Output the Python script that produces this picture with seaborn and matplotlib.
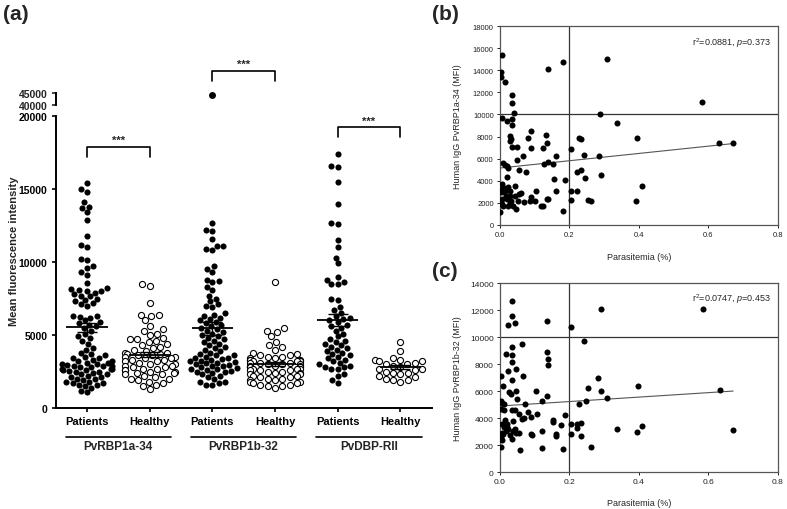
import matplotlib
matplotlib.use("Agg")
import numpy as np
import pandas as pd
import matplotlib.pyplot as plt
import seaborn as sns

sns.set_style("ticks")
plt.rcParams['font.family'] = ['Liberation Sans', 'DejaVu Sans']
plt.rcParams['mathtext.fontset'] = 'custom'
plt.rcParams['mathtext.rm'] = 'Liberation Sans'
plt.rcParams['mathtext.it'] = 'Liberation Sans:italic'

# ---------------- panel (a) data: MFI per group ----------------
antigens = ['PvRBP1a-34', 'PvRBP1b-32', 'PvDBP-RII']
groups = ['Patients', 'Healthy']

rbp1a_patients = [15400, 15000, 14800, 14100, 13800, 13700, 13400, 12900, 11800, 11150, 11000,
                  10200, 10150, 9700, 9600, 9300, 9100, 8550, 8200, 8150, 8100, 8050, 8000, 7900,
                  7800, 7700, 7650, 7500, 7400, 7300, 7200, 7100, 7000, 6300, 6300, 6250, 6200,
                  6000, 5900, 5800, 5700, 5600, 5500, 5300, 5100, 4900, 4800, 4600, 4400, 4100,
                  4000, 3800, 3700, 3600, 3500, 3400, 3400, 3300, 3200, 3200, 3100, 3100, 3000,
                  3000, 2950, 2900, 2900, 2850, 2800, 2800, 2700, 2700, 2650, 2600, 2600, 2550,
                  2500, 2500, 2400, 2300, 2300, 2200, 2100, 2100, 2000, 2000, 1900, 1800, 1800,
                  1700, 1700, 1600, 1600, 1500, 1400, 1200, 1100]
rbp1a_healthy = [8500, 8350, 7200, 6400, 6350, 6300, 6000, 5600, 5400, 5300, 5100, 5000, 4800,
                 4700, 4700, 4600, 4500, 4400, 4300, 4200, 4100, 4000, 3900, 3800, 3800, 3700,
                 3700, 3600, 3600, 3500, 3500, 3400, 3400, 3300, 3300, 3200, 3200, 3100, 3000,
                 3000, 2900, 2900, 2800, 2800, 2700, 2700, 2600, 2600, 2500, 2500, 2400, 2400,
                 2300, 2300, 2200, 2100, 2000, 2000, 1900, 1800, 1700, 1600, 1500, 1300]
rbp1b_patients = [44200, 12700, 12200, 12100, 11600, 11100, 11100, 10900, 10800, 9700, 9500, 9300,
                  8800, 8700, 8600, 8300, 8100, 7700, 7500, 7300, 7100, 7000, 6900, 6500, 6400,
                  6300, 6200, 6100, 6000, 5900, 5800, 5700, 5600, 5500, 5400, 5300, 5200, 5100,
                  5000, 4900, 4800, 4700, 4600, 4500, 4400, 4300, 4200, 4100, 4000, 3900, 3800,
                  3700, 3650, 3600, 3500, 3450, 3400, 3350, 3300, 3250, 3200, 3150, 3100, 3050,
                  3000, 2950, 2900, 2850, 2800, 2750, 2700, 2650, 2600, 2550, 2500, 2450, 2400,
                  2300, 2200, 2100, 2000, 1800, 1800, 1700, 1600, 1600]
rbp1b_healthy = [8600, 5500, 5300, 5200, 4900, 4500, 4300, 4200, 4000, 3800, 3700, 3600, 3600,
                 3500, 3500, 3400, 3400, 3300, 3300, 3300, 3200, 3200, 3200, 3100, 3100, 3100,
                 3000, 3000, 3000, 2900, 2900, 2900, 2800, 2800, 2800, 2700, 2700, 2700, 2600,
                 2600, 2600, 2500, 2500, 2400, 2400, 2300, 2300, 2200, 2200, 2100, 2100, 2000,
                 2000, 1900, 1900, 1800, 1800, 1700, 1700, 1600, 1600, 1500, 1500, 1400]
dbp_patients = [17400, 16600, 16500, 15500, 14000, 12700, 12600, 11500, 11000, 10300, 9900, 9000,
                8800, 8600, 8500, 8500, 7500, 7400, 6900, 6700, 6500, 6300, 6200, 6100, 6000,
                5900, 5700, 5600, 5500, 5300, 5100, 4900, 4700, 4600, 4500, 4400, 4300, 4200,
                4100, 4000, 3900, 3800, 3700, 3600, 3500, 3400, 3300, 3200, 3100, 3000, 2900,
                2800, 2800, 2700, 2700, 2300, 2200, 1900, 1700]
dbp_healthy = [4500, 3900, 3400, 3300, 3300, 3200, 3200, 3100, 3000, 3000, 2900, 2800, 2700,
               2700, 2600, 2500, 2400, 2400, 2300, 2200, 2100, 2000, 1900, 1900, 1800]

group_means = [5520, 3640, 5450, 3020, 6020, 2800]
group_sems = [330, 170, 420, 110, 420, 140]
sig_marks = ['***', '***', '***']
sig_heights = [17900, 23100, 19250]

# ---------------- panels (b), (c): parasitemia vs IgG ----------------
b_para = [0.007, 0.003, 0.003, 0.014, 0.034, 0.035, 0.041, 0.005, 0.021, 0.035, 0.035, 0.030,
          0.032, 0.030, 0.035, 0.048, 0.080, 0.089, 0.089, 0.133, 0.134, 0.123, 0.048, 0.065,
          0.010, 0.014, 0.019, 0.022, 0.021, 0.055, 0.074, 0.127, 0.139, 0.153, 0.162, 0.203,
          0.156, 0.187, 0.161, 0.137, 0.123, 0.182, 0.204, 0.204, 0.223, 0.221, 0.232, 0.228,
          0.234, 0.243, 0.245, 0.285, 0.289, 0.292, 0.307, 0.337, 0.252, 0.262, 0.395, 0.410,
          0.392, 0.581, 0.630, 0.671, 0.139, 0.181,
          0.005, 0.007, 0.003, 0.012, 0.023, 0.028, 0.042, 0.016, 0.028, 0.042, 0.056, 0.005,
          0.019, 0.033, 0.052, 0.023, 0.038, 0.047, 0.000, 0.005, 0.009, 0.070, 0.085, 0.089,
          0.100, 0.103, 0.119, 0.134, 0.000, 0.014, 0.030, 0.060, 0.013]
b_igg = [15400, 13850, 13400, 12950, 11750, 11000, 10100, 9700, 9450, 9570, 9030, 8070,
         7770, 7620, 7070, 7070, 7830, 8460, 6950, 8130, 7370, 7000, 5870, 6260,
         5600, 5450, 5300, 5120, 4300, 4970, 4820, 5480, 5720, 5510, 6200, 6860,
         4120, 4060, 3040, 2320, 1720, 1230, 2260, 3040, 3040, 4790, 4970, 7830,
         7770, 6320, 4270, 6200, 10080, 4520, 15000, 9240, 2290, 2200, 7830, 3550,
         2200, 11140, 7370, 7370, 14090, 14780,
         3700, 3250, 2950, 2950, 3400, 3100, 3560, 2650, 2650, 2650, 2800, 2350,
         2350, 2200, 2200, 1750, 1750, 1450, 1150, 1900, 1750, 2100, 2200, 2500,
         2200, 3050, 1750, 2350, 1950, 3100, 2000, 2900, 3300]
b_fit = (5150, 3300)  # intercept, slope as drawn
b_stats = 'r$^2$=0.0881, $p$=0.373'

c_para = [0.036, 0.034, 0.043, 0.022, 0.134, 0.204, 0.290, 0.583, 0.243, 0.063, 0.034, 0.036,
          0.016, 0.035, 0.136, 0.137, 0.137, 0.022, 0.047, 0.066, 0.004, 0.036, 0.283, 0.254,
          0.290, 0.309, 0.397, 0.634, 0.010, 0.025, 0.032, 0.046, 0.104, 0.136, 0.050, 0.004,
          0.005, 0.013, 0.004, 0.012, 0.036, 0.043, 0.073, 0.120, 0.228, 0.247, 0.082, 0.062,
          0.055, 0.089, 0.107, 0.154, 0.154, 0.187, 0.015, 0.019, 0.038, 0.043, 0.012, 0.024,
          0.005, 0.005, 0.010, 0.017, 0.029, 0.034, 0.038, 0.054, 0.002, 0.006, 0.004, 0.058,
          0.088, 0.091, 0.120, 0.160, 0.161, 0.177, 0.204, 0.204, 0.223, 0.223, 0.232, 0.232,
          0.122, 0.182, 0.263, 0.336, 0.393, 0.410, 0.671, 0.020, 0.045, 0.070]
c_igg = [12640, 11550, 11060, 10890, 11160, 10720, 12100, 12100, 9700, 9460, 9230, 8640,
         8720, 8150, 8860, 8350, 7930, 7460, 7630, 7110, 7110, 6840, 6960, 6220,
         5980, 5480, 6350, 6100, 6370, 5930, 5800, 6000, 6000, 5600, 5430, 5260,
         5110, 5010, 4690, 4570, 4620, 4620, 5040, 5260, 5010, 5260, 4440, 3950,
         4270, 4050, 4270, 3880, 3700, 4200, 3830, 3530, 3780, 3210, 3330, 3210,
         3580, 2890, 2790, 3010, 2770, 2470, 3010, 2890, 2590, 2350, 1850, 1600,
         2840, 2720, 3010, 2840, 2640, 3460, 3530, 2790, 3530, 3260, 3630, 2640,
         1780, 1680, 1880, 3160, 2960, 3410, 3090, 3300, 2900, 4000]
c_fit = (4890, 1650)
c_stats = 'r$^2$=0.0747, $p$=0.453'

# ---------------- build frames ----------------
order = [f'{a}|{g}' for a in antigens for g in groups]
values = [rbp1a_patients, rbp1a_healthy, rbp1b_patients, rbp1b_healthy, dbp_patients, dbp_healthy]
rows = []
for cat, vals in zip(order, values):
    for v in vals:
        rows.append({'cat': cat, 'group': cat.split('|')[1], 'mfi': v})
df = pd.DataFrame(rows)
low = df[df['mfi'] <= 20000]
high = df[df['mfi'] > 20000]

fig = plt.figure(figsize=(7.87, 5.10), dpi=100)

# main (lower) part of the broken axis
ax = fig.add_axes([0.0706, 0.198, 0.478, 0.5725])
sns.swarmplot(data=low[low['group'] == 'Patients'], x='cat', y='mfi', order=order,
              color='black', size=4.4, ax=ax)
sns.swarmplot(data=low[low['group'] == 'Healthy'], x='cat', y='mfi', order=order,
              color='white', edgecolor='black', linewidth=0.8, size=4.4, ax=ax)
pos = np.arange(len(order))
ax.hlines(group_means, pos - 0.33, pos + 0.33, color='black', lw=1.3, zorder=5)
ax.errorbar(pos, group_means, yerr=group_sems, fmt='none', ecolor='black',
            elinewidth=1.0, capsize=7, capthick=1.0, zorder=5)
ax.set_ylim(0, 20000)
ax.set_xlim(-0.5, 5.5)
ax.set_yticks([0, 5000, 10000, 15000, 20000])
ax.set_xticks(pos)
ax.set_xticklabels([c.split('|')[1] for c in order], fontsize=8, fontweight='bold')
for t in ax.get_yticklabels():
    t.set_fontsize(7.5)
    t.set_fontweight('bold')
ax.set_xlabel('')
ax.set_ylabel('Mean fluorescence intensity', fontsize=8, fontweight='bold')
ax.yaxis.set_label_coords(-0.097, 0.54)
ax.tick_params(axis='both', direction='out', length=3, width=1.2, pad=3, colors='black')
sns.despine(ax=ax)
for s in ['left', 'bottom']:
    ax.spines[s].set_linewidth(1.4)
    ax.spines[s].set_color('black')

# antigen labels with lines underneath the tick labels
xt = ax.get_xaxis_transform()
for i, name in enumerate(antigens):
    c = 2 * i + 0.5
    ax.plot([c - 0.84, c + 0.84], [-0.099, -0.099], color='black', lw=1.2,
            transform=xt, clip_on=False)
    ax.text(c, -0.13, name, transform=xt, ha='center', va='center',
            fontsize=8.5, fontweight='bold')

# significance brackets
for i, (mark, h) in enumerate(zip(sig_marks, sig_heights)):
    x1, x2 = 2 * i, 2 * i + 1
    ax.plot([x1, x1, x2, x2], [h - 700, h, h, h - 700], color='black', lw=1.2, clip_on=False)
    ax.text((x1 + x2) / 2, h + 100, mark, ha='center', va='bottom', fontsize=8,
            fontweight='bold')

# upper part of the broken axis (outlier)
ax_top = fig.add_axes([0.0706, 0.792, 0.478, 0.0235])
sns.stripplot(data=high, x='cat', y='mfi', order=order, jitter=False, color='black',
              size=5, ax=ax_top)
ax_top.set_ylim(40000, 45000)
ax_top.set_xlim(-0.5, 5.5)
ax_top.set_yticks([40000, 45000])
for t in ax_top.get_yticklabels():
    t.set_fontsize(7.5)
    t.set_fontweight('bold')
ax_top.set_xticks([])
ax_top.set_xlabel('')
ax_top.set_ylabel('')
ax_top.tick_params(axis='y', direction='out', length=3, width=1.2, pad=3)
for s in ['top', 'right', 'bottom']:
    ax_top.spines[s].set_visible(False)
ax_top.spines['left'].set_linewidth(1.4)
ax_top.spines['left'].set_color('black')
for coll in ax_top.collections:
    coll.set_clip_on(False)
ax_top.patch.set_visible(False)


def scatter_panel(rect, para, igg, fit, stats, ymax, ylabel, tick_fs):
    a = fig.add_axes(rect)
    d = pd.DataFrame({'para': para, 'igg': igg})
    sns.scatterplot(data=d, x='para', y='igg', color='black', s=19, edgecolor='black',
                    linewidth=0, ax=a, zorder=3)
    a.axvline(0.2, color='#333333', lw=0.9, zorder=1)
    a.axhline(10000, color='#333333', lw=0.9, zorder=1)
    xs = np.array([0, max(para)])
    a.plot(xs, fit[0] + fit[1] * xs, color='#555555', lw=0.8, zorder=2)
    a.set_xlim(0, 0.8)
    a.set_ylim(0, ymax)
    a.set_xticks([0, 0.2, 0.4, 0.6, 0.8])
    a.set_xticklabels(['0.0', '0.2', '0.4', '0.6', '0.8'])
    a.set_yticks(np.arange(0, ymax + 1, 2000))
    a.tick_params(labelsize=tick_fs, length=2.5, width=0.7, pad=2, colors='#222222')
    a.set_xlabel('Parasitemia (%)', fontsize=6.5)
    a.set_ylabel(ylabel, fontsize=6.5)
    a.xaxis.set_label_coords(0.5, -0.135)
    a.yaxis.set_label_coords(-0.135, 0.5)
    for s in a.spines.values():
        s.set_color('#555555')
        s.set_linewidth(0.9)
    a.text(0.975, 0.955, stats, transform=a.transAxes, ha='right', va='top', fontsize=6.5)
    return a


scatter_panel([0.6353, 0.557, 0.3532, 0.390], b_para, b_igg, b_fit, b_stats, 18000,
              'Human IgG PvRBP1a-34 (MFI)', 5.5)
scatter_panel([0.6353, 0.0725, 0.3532, 0.3706], c_para, c_igg, c_fit, c_stats, 14000,
              'Human IgG PvRBP1b-32 (MFI)', 6)

fig.text(0.004, 0.99, '(a)', fontsize=15, fontweight='bold', va='top', ha='left')
fig.text(0.549, 0.99, '(b)', fontsize=15, fontweight='bold', va='top', ha='left')
fig.text(0.549, 0.487, '(c)', fontsize=15, fontweight='bold', va='top', ha='left')

fig.savefig('out.png', dpi=100)
